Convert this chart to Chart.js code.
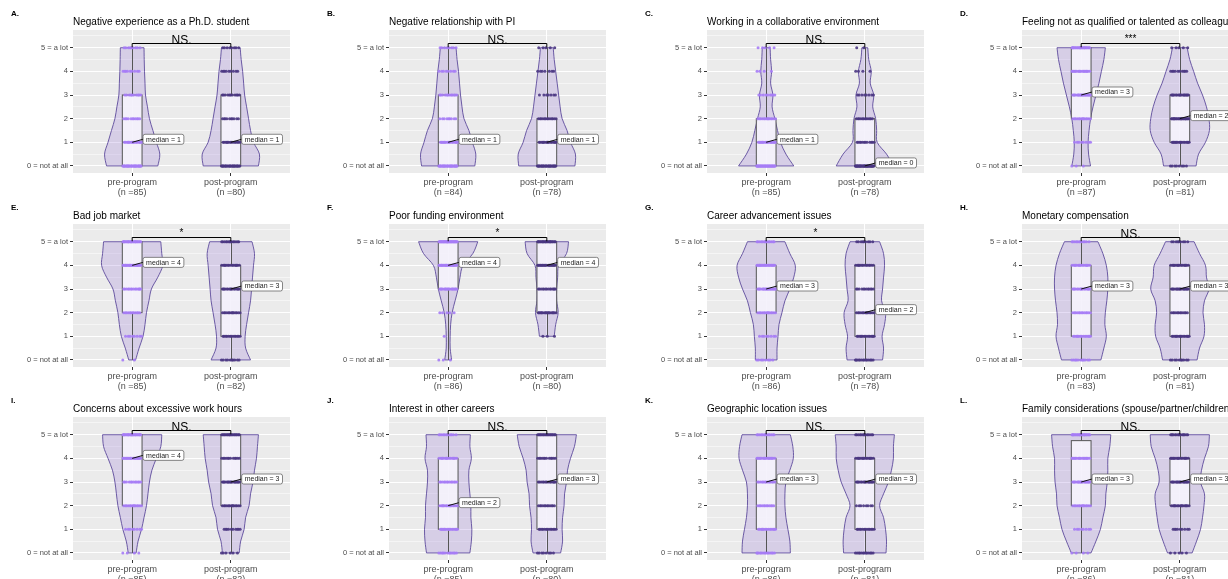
<!DOCTYPE html>
<html>
<head>
<meta charset="utf-8">
<script src="https://cdn.jsdelivr.net/npm/chart.js@4.4.1/dist/chart.umd.min.js"></script>
<style>
  html, body { margin: 0; padding: 0; background: #fff; }
  body { position: relative; width: 1228px; height: 579px; overflow: hidden; }
  canvas { position: absolute; }
</style>
</head>
<body>
<script>
// ---- data ----
const panelLetters = ["A.", "B.", "C.", "D.", "E.", "F.", "G.", "H.", "I.", "J.", "K.", "L."];
const panelTitles = [
  "Negative experience as a Ph.D. student",
  "Negative relationship with PI",
  "Working in a collaborative environment",
  "Feeling not as qualified or talented as colleagues",
  "Bad job market",
  "Poor funding environment",
  "Career advancement issues",
  "Monetary compensation",
  "Concerns about excessive work hours",
  "Interest in other careers",
  "Geographic location issues",
  "Family considerations (spouse/partner/children)"
];
const groupNames = ["pre-program", "post-program"];
const yTickLabels = ["0 = not at all", "1", "2", "3", "4", "5 = a lot"];
const nPre = [85, 84, 85, 87, 85, 86, 86, 83, 85, 85, 86, 86];
const nPost = [80, 78, 78, 81, 82, 80, 78, 81, 82, 80, 81, 81];
const signif = ["NS.", "NS.", "NS.", "***", "*", "*", "*", "NS.", "NS.", "NS.", "NS.", "NS."];

// boxplot stats
const q1Pre = [0, 0, 0, 2, 2, 3, 2, 1, 2, 1, 1, 2];
const medPre = [1, 1, 1, 3, 4, 4, 3, 3, 4, 2, 3, 3];
const q3Pre = [3, 3, 2, 5, 5, 5, 4, 4, 5, 4, 4, 4.75];
const loPre = [0, 0, 0, 0, 0, 0, 0, 0, 0, 0, 0, 0];
const hiPre = [5, 5, 5, 5, 5, 5, 5, 5, 5, 5, 5, 5];
const q1Post = [0, 0, 0, 1, 1, 2, 1, 1, 2, 1, 1, 2];
const medPost = [1, 1, 0, 2, 3, 4, 2, 3, 3, 3, 3, 3];
const q3Post = [3, 2, 2, 3, 4, 5, 4, 4, 5, 5, 4, 4];
const loPost = [0, 0, 0, 0, 0, 1, 0, 0, 0, 0, 0, 0];
const hiPost = [5, 5, 5, 5, 5, 5, 5, 5, 5, 5, 5, 5];

// responses per answer 0..5
const countsPre = [
  [30, 16, 11, 10, 9, 9], [30, 17, 9, 12, 8, 8], [35, 18, 14, 9, 4, 5], [3, 8, 14, 20, 18, 24],
  [2, 8, 12, 14, 24, 25], [3, 1, 5, 18, 24, 35], [8, 8, 14, 20, 22, 14], [11, 15, 13, 16, 16, 12],
  [4, 8, 14, 12, 20, 27], [12, 17, 15, 13, 16, 12], [14, 15, 12, 13, 18, 14], [4, 8, 14, 18, 18, 24]
];
const countsPost = [
  [28, 14, 10, 11, 9, 8], [30, 16, 13, 7, 7, 5], [40, 12, 12, 8, 4, 2], [8, 17, 24, 17, 10, 5],
  [10, 13, 14, 16, 15, 14], [0, 3, 18, 14, 20, 25], [14, 15, 14, 12, 14, 9], [10, 16, 12, 18, 16, 9],
  [6, 10, 14, 18, 12, 22], [8, 13, 12, 14, 12, 21], [13, 13, 8, 17, 16, 14], [5, 9, 16, 18, 17, 16]
];

// violin half-widths (x units) at y = 0, 0.5, ... 5
const violinLevels = [0, 0.5, 1, 1.5, 2, 2.5, 3, 3.5, 4, 4.5, 5];
const violinPre = [
  [0.26, 0.28, 0.245, 0.21, 0.175, 0.155, 0.135, 0.13, 0.125, 0.122, 0.12],
  [0.27, 0.28, 0.245, 0.21, 0.16, 0.14, 0.125, 0.115, 0.105, 0.09, 0.08],
  [0.28, 0.2, 0.145, 0.115, 0.088, 0.06, 0.068, 0.045, 0.055, 0.045, 0.04],
  [0.095, 0.075, 0.07, 0.08, 0.095, 0.12, 0.15, 0.18, 0.205, 0.23, 0.245],
  [0.035, 0.07, 0.11, 0.13, 0.145, 0.17, 0.195, 0.26, 0.31, 0.3, 0.29],
  [0.035, 0.02, 0.02, 0.025, 0.04, 0.07, 0.1, 0.12, 0.15, 0.25, 0.3],
  [0.11, 0.11, 0.12, 0.13, 0.16, 0.19, 0.24, 0.28, 0.295, 0.24, 0.19],
  [0.2, 0.23, 0.255, 0.24, 0.245, 0.26, 0.27, 0.27, 0.255, 0.22, 0.17],
  [0.04, 0.06, 0.095, 0.12, 0.145, 0.16, 0.175, 0.2, 0.245, 0.29, 0.3],
  [0.22, 0.235, 0.24, 0.23, 0.23, 0.22, 0.21, 0.21, 0.235, 0.22, 0.225],
  [0.245, 0.24, 0.22, 0.2, 0.19, 0.19, 0.2, 0.24, 0.275, 0.27, 0.245],
  [0.1, 0.15, 0.195, 0.22, 0.245, 0.25, 0.265, 0.27, 0.27, 0.29, 0.3]
];
const violinPost = [
  [0.28, 0.29, 0.23, 0.2, 0.18, 0.16, 0.14, 0.13, 0.12, 0.105, 0.095],
  [0.285, 0.29, 0.24, 0.205, 0.155, 0.135, 0.12, 0.105, 0.09, 0.075, 0.065],
  [0.29, 0.22, 0.125, 0.12, 0.11, 0.08, 0.09, 0.055, 0.065, 0.04, 0.03],
  [0.165, 0.19, 0.26, 0.3, 0.295, 0.27, 0.23, 0.18, 0.14, 0.1, 0.075],
  [0.2, 0.15, 0.145, 0.16, 0.18, 0.2, 0.21, 0.22, 0.23, 0.24, 0.215],
  [null, null, 0.075, 0.09, 0.115, 0.1, 0.1, 0.11, 0.12, 0.2, 0.22],
  [0.18, 0.19, 0.175, 0.2, 0.21, 0.17, 0.18, 0.19, 0.2, 0.19, 0.15],
  [0.175, 0.2, 0.245, 0.25, 0.235, 0.25, 0.295, 0.27, 0.26, 0.2, 0.145],
  [0.085, 0.1, 0.135, 0.15, 0.185, 0.2, 0.225, 0.24, 0.26, 0.27, 0.28],
  [0.14, 0.16, 0.155, 0.16, 0.175, 0.18, 0.2, 0.21, 0.24, 0.28, 0.3],
  [0.215, 0.22, 0.21, 0.19, 0.15, 0.19, 0.24, 0.27, 0.29, 0.29, 0.3],
  [0.125, 0.17, 0.21, 0.23, 0.245, 0.25, 0.21, 0.22, 0.25, 0.29, 0.3]
];

// ---- layout ----
const FONT = "'Liberation Sans', Arial, Helvetica, sans-serif";
const COL_X = [0, 316, 634, 949];
const ROW_Y = [0, 194, 387];
const W = 316, H = 200;
const PLOT_LEFT = 73, PLOT_TOP = 30, PLOT_W = 217, PLOT_H = 143;
const yGrid = [0, 0.5, 1, 1.5, 2, 2.5, 3, 3.5, 4, 4.5, 5, 5.5];

const PRE_DOT = "rgba(166,124,246,0.9)";
const POST_DOT = "rgba(74,54,130,0.9)";

Chart.defaults.font.family = FONT;

// spread the dots of one answer level inside +-0.1 of the group centre
function jitteredPoints(counts, center) {
  const pts = [];
  counts.forEach((n, level) => {
    for (let k = 0; k < n; k++) {
      const f = (k * 0.618034 + level * 0.29) % 1;
      pts.push({ x: center + (f * 2 - 1) * 0.095, y: level });
    }
  });
  return pts;
}

function smoothSide(ctx, pts, first) {
  if (first) ctx.moveTo(pts[0].x, pts[0].y);
  else ctx.lineTo(pts[0].x, pts[0].y);
  for (let i = 0; i < pts.length - 1; i++) {
    const p0 = pts[i - 1] || pts[i], p1 = pts[i], p2 = pts[i + 1], p3 = pts[i + 2] || p2;
    ctx.bezierCurveTo(
      p1.x + (p2.x - p0.x) / 6, p1.y + (p2.y - p0.y) / 6,
      p2.x - (p3.x - p1.x) / 6, p2.y - (p3.y - p1.y) / 6,
      p2.x, p2.y);
  }
}

function drawViolin(ctx, xs, ys, center, widths) {
  const right = [], left = [];
  violinLevels.forEach((lv, i) => {
    if (widths[i] == null) return;
    right.push({ x: xs.getPixelForValue(center + widths[i]), y: ys.getPixelForValue(lv) });
    left.push({ x: xs.getPixelForValue(center - widths[i]), y: ys.getPixelForValue(lv) });
  });
  left.reverse();
  ctx.beginPath();
  smoothSide(ctx, right, true);
  smoothSide(ctx, left, false);
  ctx.closePath();
  ctx.fillStyle = "rgba(150,120,215,0.25)";
  ctx.fill();
  ctx.strokeStyle = "#5E4B9C";
  ctx.lineWidth = 0.9;
  ctx.stroke();
}

function drawBox(ctx, xs, ys, c, lo, q1, med, q3, hi) {
  const xl = xs.getPixelForValue(c - 0.1), xr = xs.getPixelForValue(c + 0.1);
  const xc = Math.round(xs.getPixelForValue(c)) + 0.5;
  const yt = ys.getPixelForValue(q3), yb = ys.getPixelForValue(q1);
  ctx.strokeStyle = "#555";
  ctx.lineWidth = 1;
  ctx.beginPath();
  ctx.moveTo(xc, yt); ctx.lineTo(xc, ys.getPixelForValue(hi));
  ctx.moveTo(xc, yb); ctx.lineTo(xc, ys.getPixelForValue(lo));
  ctx.stroke();
  ctx.fillStyle = "rgba(248,246,253,0.85)";
  ctx.fillRect(xl, yt, xr - xl, yb - yt);
  ctx.strokeRect(xl, yt, xr - xl, yb - yt);
  ctx.beginPath();
  ctx.moveTo(xl, ys.getPixelForValue(med)); ctx.lineTo(xr, ys.getPixelForValue(med));
  ctx.stroke();
}

function drawMedianLabel(ctx, xs, ys, c, med) {
  const text = "median = " + med;
  ctx.font = "7px " + FONT;
  const w = ctx.measureText(text).width + 6, h = 10;
  const x0 = xs.getPixelForValue(c + 0.1) + 1;
  const ym = ys.getPixelForValue(med), yc = ym - 3;
  ctx.strokeStyle = "#111";
  ctx.lineWidth = 1;
  ctx.beginPath();
  ctx.moveTo(xs.getPixelForValue(c), ym);
  ctx.lineTo(x0, yc);
  ctx.stroke();
  const r = 2, x = x0, y = yc - h / 2;
  ctx.beginPath();
  ctx.moveTo(x + r, y);
  ctx.arcTo(x + w, y, x + w, y + h, r);
  ctx.arcTo(x + w, y + h, x, y + h, r);
  ctx.arcTo(x, y + h, x, y, r);
  ctx.arcTo(x, y, x + w, y, r);
  ctx.closePath();
  ctx.fillStyle = "#fff";
  ctx.fill();
  ctx.strokeStyle = "#555";
  ctx.lineWidth = 0.7;
  ctx.stroke();
  ctx.fillStyle = "#222";
  ctx.textAlign = "left";
  ctx.textBaseline = "middle";
  ctx.fillText(text, x0 + 3, yc + 0.5);
}

function drawBracket(ctx, xs, ys, label) {
  const yb = Math.round(ys.getPixelForValue(5.22)) + 0.5, yl = ys.getPixelForValue(5.02);
  const x1 = xs.getPixelForValue(1), x2 = xs.getPixelForValue(2);
  ctx.strokeStyle = "#000";
  ctx.lineWidth = 1;
  ctx.beginPath();
  ctx.moveTo(x1, yl); ctx.lineTo(x1, yb); ctx.lineTo(x2, yb); ctx.lineTo(x2, yl);
  ctx.stroke();
  ctx.fillStyle = "#000";
  ctx.textAlign = "center";
  ctx.textBaseline = "alphabetic";
  if (label === "NS.") {
    ctx.font = "12px " + FONT;
    ctx.fillText(label, (x1 + x2) / 2, yb + 0.5);
  } else {
    ctx.font = "10px " + FONT;
    ctx.fillText(label, (x1 + x2) / 2, yb - 2);
  }
}

for (let i = 0; i < 12; i++) {
  const col = i % 4, row = Math.floor(i / 4);
  const cv = document.createElement("canvas");
  cv.width = W;
  cv.height = H;
  cv.style.left = COL_X[col] + "px";
  cv.style.top = ROW_Y[row] + "px";
  document.body.appendChild(cv);

  const panelPlugin = {
    id: "panel" + i,
    beforeDraw(chart) {
      const a = chart.chartArea, ctx = chart.ctx;
      ctx.save();
      ctx.fillStyle = "#EBEBEB";
      ctx.fillRect(a.left, a.top, a.right - a.left, a.bottom - a.top);
      ctx.restore();
    },
    beforeDatasetsDraw(chart) {
      const ctx = chart.ctx, xs = chart.scales.x, ys = chart.scales.y;
      ctx.save();
      drawViolin(ctx, xs, ys, 1, violinPre[i]);
      drawViolin(ctx, xs, ys, 2, violinPost[i]);
      drawBox(ctx, xs, ys, 1, loPre[i], q1Pre[i], medPre[i], q3Pre[i], hiPre[i]);
      drawBox(ctx, xs, ys, 2, loPost[i], q1Post[i], medPost[i], q3Post[i], hiPost[i]);
      ctx.restore();
    },
    afterDatasetsDraw(chart) {
      const ctx = chart.ctx, xs = chart.scales.x, ys = chart.scales.y, a = chart.chartArea;
      ctx.save();
      drawMedianLabel(ctx, xs, ys, 1, medPre[i]);
      drawMedianLabel(ctx, xs, ys, 2, medPost[i]);
      drawBracket(ctx, xs, ys, signif[i]);
      ctx.fillStyle = "#000";
      ctx.textAlign = "left";
      ctx.textBaseline = "alphabetic";
      ctx.font = "10px " + FONT;
      ctx.fillText(panelTitles[i], a.left, 25);
      ctx.font = "bold 8px " + FONT;
      ctx.fillText(panelLetters[i], 11, 16);
      ctx.restore();
    }
  };

  new Chart(cv, {
    type: "scatter",
    data: {
      datasets: [
        { data: jitteredPoints(countsPre[i], 1), backgroundColor: PRE_DOT, pointRadius: 1.5, borderWidth: 0 },
        { data: jitteredPoints(countsPost[i], 2), backgroundColor: POST_DOT, pointRadius: 1.5, borderWidth: 0 }
      ]
    },
    options: {
      responsive: false,
      animation: false,
      events: [],
      layout: { padding: { top: PLOT_TOP, right: W - PLOT_LEFT - PLOT_W, bottom: 0, left: 0 } },
      plugins: { legend: { display: false }, tooltip: { enabled: false }, title: { display: false } },
      scales: {
        x: {
          type: "linear",
          min: 0.4,
          max: 2.6,
          afterBuildTicks: s => { s.ticks = [{ value: 1 }, { value: 2 }]; },
          afterFit: s => { s.height = H - PLOT_TOP - PLOT_H; },
          ticks: {
            callback: v => [groupNames[v - 1], "(n =" + (v === 1 ? nPre[i] : nPost[i]) + ")"],
            color: "#4D4D4D",
            font: { size: 9, lineHeight: 1.15 },
            padding: 1,
            maxRotation: 0,
            autoSkip: false
          },
          grid: { color: "#FFFFFF", lineWidth: 1, tickColor: "#333333", tickLength: 3 },
          border: { display: false }
        },
        y: {
          type: "linear",
          min: -0.3,
          max: 5.75,
          afterBuildTicks: s => { s.ticks = yGrid.map(v => ({ value: v })); },
          afterFit: s => { s.width = PLOT_LEFT; },
          ticks: {
            callback: v => Number.isInteger(v) ? yTickLabels[v] : "",
            color: "#4D4D4D",
            font: { size: 7.5 },
            padding: 2,
            autoSkip: false
          },
          grid: {
            color: "#FFFFFF",
            lineWidth: c => Number.isInteger(c.tick.value) ? 1 : 0.5,
            tickColor: c => Number.isInteger(c.tick.value) ? "#333333" : "rgba(0,0,0,0)",
            tickLength: 3
          },
          border: { display: false }
        }
      }
    },
    plugins: [panelPlugin]
  });
}
</script>
</body>
</html>
